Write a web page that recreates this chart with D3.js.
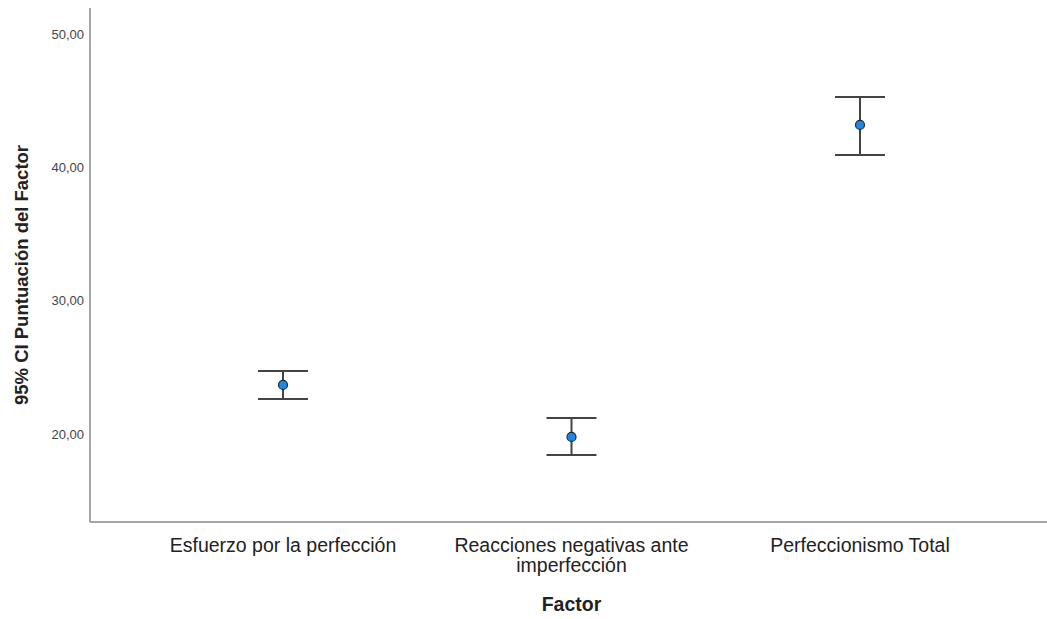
<!DOCTYPE html>
<html><head><meta charset="utf-8">
<script src="https://cdn.jsdelivr.net/npm/d3@7"></script>
<style>body{margin:0;background:#fff}svg{display:block}</style>
</head><body>
<svg id="c" width="1047" height="619"></svg>
<script>
const categories = ["Esfuerzo por la perfección", "Reacciones negativas ante imperfección", "Perfeccionismo Total"];
const categoryLines = [["Esfuerzo por la perfección"], ["Reacciones negativas ante", "imperfección"], ["Perfeccionismo Total"]];
const means = [23.68, 19.78, 43.18];
const lower = [22.63, 18.42, 40.93];
const upper = [24.73, 21.20, 45.28];
const yTicks = [20, 30, 40, 50];

(function () {
const svg = d3.select("#c");
const pLeft = 90, pRight = 1053, pTop = 8, pBottom = 522;
const y = d3.scaleLinear().domain([13.4, 51.95]).range([pBottom, pTop]);
const x = d3.scalePoint().domain(categories).range([pLeft, pRight]).padding(0.669);
const font = "Liberation Sans, Arial, sans-serif";

svg.append("line").attr("x1", pLeft).attr("x2", pLeft).attr("y1", pTop).attr("y2", pBottom)
  .attr("stroke", "#888").attr("stroke-width", 1.5);
svg.append("line").attr("x1", pLeft).attr("x2", 1047).attr("y1", pBottom).attr("y2", pBottom)
  .attr("stroke", "#888").attr("stroke-width", 1.5);

svg.selectAll(".yt").data(yTicks).enter().append("text")
  .attr("x", 84).attr("y", d => y(d)).attr("dy", "0.35em")
  .attr("text-anchor", "end").attr("font-family", font)
  .attr("font-size", 13).attr("fill", "#444")
  .text(d => d3.format(".2f")(d).replace(".", ","));

categories.forEach((c, i) => {
  const t = svg.append("text").attr("text-anchor", "middle")
    .attr("font-family", font).attr("font-size", 19.5).attr("fill", "#222");
  categoryLines[i].forEach((ln, j) => {
    t.append("tspan").attr("x", x(c)).attr("y", 552 + j * 20).text(ln);
  });
});

svg.append("text").attr("x", x(categories[1])).attr("y", 611).attr("text-anchor", "middle")
  .attr("font-family", font).attr("font-size", 19.5).attr("font-weight", "bold")
  .attr("fill", "#222").text("Factor");
svg.append("text").attr("transform", `translate(28,275) rotate(-90)`).attr("text-anchor", "middle")
  .attr("font-family", font).attr("font-size", 18.5).attr("font-weight", "bold")
  .attr("fill", "#222").text("95% CI Puntuación del Factor");

const cap = 25;
const g = svg.selectAll(".eb").data(categories).enter().append("g");
g.append("line").attr("x1", d => x(d)).attr("x2", d => x(d))
  .attr("y1", (d, i) => y(upper[i])).attr("y2", (d, i) => y(lower[i]))
  .attr("stroke", "#444").attr("stroke-width", 2);
g.append("line").attr("x1", d => x(d) - cap).attr("x2", d => x(d) + cap)
  .attr("y1", (d, i) => y(upper[i])).attr("y2", (d, i) => y(upper[i]))
  .attr("stroke", "#444").attr("stroke-width", 2);
g.append("line").attr("x1", d => x(d) - cap).attr("x2", d => x(d) + cap)
  .attr("y1", (d, i) => y(lower[i])).attr("y2", (d, i) => y(lower[i]))
  .attr("stroke", "#444").attr("stroke-width", 2);
g.append("circle").attr("cx", d => x(d)).attr("cy", (d, i) => y(means[i])).attr("r", 4.5)
  .attr("fill", "#1e88e5").attr("stroke", "#1a2a3a").attr("stroke-width", 1.2);
})();
</script>
</body></html>
